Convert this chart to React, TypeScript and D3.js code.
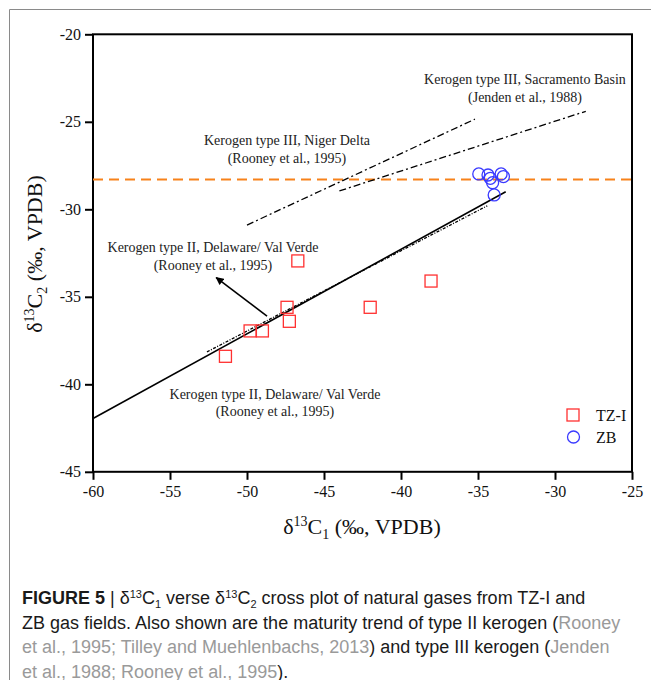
import React, { useEffect, useRef } from 'react';
import * as d3 from 'd3';

// TZ-I gas field samples (d13C1, d13C2)
const tzC1 = [-51.4, -49.8, -49.0, -47.4, -47.25, -46.7, -42.0, -38.05];
const tzC2 = [-38.4, -36.95, -36.95, -35.6, -36.4, -32.95, -35.6, -34.1];

// ZB gas field samples
const zbC1 = [-34.95, -34.35, -34.2, -34.05, -33.5, -33.35, -33.95];
const zbC2 = [-27.98, -28.04, -28.23, -28.48, -27.98, -28.13, -29.18];

// reference trend lines, [x1, y1, x2, y2]
const typeIISolid = [-60, -41.95, -33.2, -29.0];
const typeIIDotted = [-52.6, -38.15, -34.4, -29.8];
const nigerDelta = [-50.0, -30.9, -35.2, -24.85];
const sacramento = [-44.0, -28.95, -28.0, -24.4];
const arrowLine = [-48.7, -36.1, -52.0, -33.9];

const maturityLevel = -28.3;

const xTicks = [-60, -55, -50, -45, -40, -35, -30, -25];
const yTicks = [-20, -25, -30, -35, -40, -45];

const serif = '"Liberation Serif", "Times New Roman", serif';
const sans = '"Liberation Sans", Arial, sans-serif';

export default function App() {
  const ref = useRef<SVGSVGElement>(null);

  useEffect(() => {
    document.body.style.margin = '0';
    const svg = d3.select(ref.current);
    svg.selectAll('*').remove();

    const x = d3.scaleLinear().domain([-60, -25]).range([93, 632]);
    const y = d3.scaleLinear().domain([-20, -45]).range([34.3, 471.8]);

    // outer gray frame
    svg.append('path')
      .attr('d', 'M9.5,680 L9.5,9.5 L651,9.5')
      .attr('fill', 'none')
      .attr('stroke', '#8a8a8a')
      .attr('stroke-width', 1);

    svg.append('defs').append('marker')
      .attr('id', 'arrowhead')
      .attr('viewBox', '0 0 10 10')
      .attr('refX', 9).attr('refY', 5)
      .attr('markerWidth', 9).attr('markerHeight', 8)
      .attr('markerUnits', 'userSpaceOnUse')
      .attr('orient', 'auto')
      .append('path')
      .attr('d', 'M0,0 L10,5 L0,10 z')
      .attr('fill', '#000');

    // plot box
    svg.append('rect')
      .attr('x', x(-60)).attr('y', y(-20))
      .attr('width', x(-25) - x(-60)).attr('height', y(-45) - y(-20))
      .attr('fill', 'none').attr('stroke', '#000').attr('stroke-width', 2);

    // axes
    const xAxis = svg.append('g')
      .attr('transform', `translate(0,${y(-45)})`)
      .call(d3.axisBottom(x).tickValues(xTicks).tickSize(8).tickPadding(6).tickFormat(d => String(d)));
    const yAxis = svg.append('g')
      .attr('transform', `translate(${x(-60)},0)`)
      .call(d3.axisLeft(y).tickValues(yTicks).tickSize(8).tickPadding(4).tickFormat(d => String(d)));
    [xAxis, yAxis].forEach(g => {
      g.select('.domain').remove();
      g.selectAll('line').attr('stroke', '#000').attr('stroke-width', 2);
      g.selectAll('text').attr('font-family', serif).attr('font-size', 16).attr('fill', '#111');
    });

    // orange dashed line
    svg.append('line')
      .attr('x1', x(-60)).attr('x2', x(-25))
      .attr('y1', y(maturityLevel)).attr('y2', y(maturityLevel))
      .attr('stroke', '#f7821b').attr('stroke-width', 2)
      .attr('stroke-dasharray', '10,6');

    const seg = (s: number[], dash: string | null, w: number) => {
      const l = svg.append('line')
        .attr('x1', x(s[0])).attr('y1', y(s[1]))
        .attr('x2', x(s[2])).attr('y2', y(s[3]))
        .attr('stroke', '#000').attr('stroke-width', w);
      if (dash) l.attr('stroke-dasharray', dash);
      return l;
    };
    seg(typeIISolid, null, 1.6);
    seg(typeIIDotted, '3,1.5,1,1.5', 1.3);
    seg(nigerDelta, '7,3,2,3', 1.3);
    seg(sacramento, '7,3,2,3', 1.3);
    seg(arrowLine, null, 1.6).attr('marker-end', 'url(#arrowhead)');

    // annotations
    const notes = [
      { cx: 525, y: 84, t: 'Kerogen type III, Sacramento Basin' },
      { cx: 525, y: 102, t: '(Jenden et al., 1988)' },
      { cx: 287, y: 145, t: 'Kerogen type III, Niger Delta' },
      { cx: 287, y: 163, t: '(Rooney et al., 1995)' },
      { cx: 213, y: 252, t: 'Kerogen type II, Delaware/ Val Verde' },
      { cx: 213, y: 270, t: '(Rooney et al., 1995)' },
      { cx: 275, y: 399, t: 'Kerogen type II, Delaware/ Val Verde' },
      { cx: 275, y: 416, t: '(Rooney et al., 1995)' },
    ];
    svg.append('g').selectAll('text').data(notes).join('text')
      .attr('x', d => d.cx).attr('y', d => d.y)
      .attr('text-anchor', 'middle')
      .attr('font-family', serif).attr('font-size', 14).attr('fill', '#222')
      .text(d => d.t);

    // TZ-I squares
    const sq = 12;
    svg.append('g').selectAll('rect').data(tzC1).join('rect')
      .attr('x', (d) => x(d) - sq / 2)
      .attr('y', (d, i) => y(tzC2[i]) - sq / 2)
      .attr('width', sq).attr('height', sq)
      .attr('fill', 'none').attr('stroke', '#ff3030').attr('stroke-width', 1.3);

    // ZB circles
    svg.append('g').selectAll('circle').data(zbC1).join('circle')
      .attr('cx', d => x(d))
      .attr('cy', (d, i) => y(zbC2[i]))
      .attr('r', 6)
      .attr('fill', 'none').attr('stroke', '#3a3aff').attr('stroke-width', 1.3);

    // legend
    const lg = svg.append('g');
    lg.append('rect').attr('x', 573 - 6).attr('y', 415 - 6).attr('width', 12).attr('height', 12)
      .attr('fill', 'none').attr('stroke', '#ff3030').attr('stroke-width', 1.3);
    lg.append('circle').attr('cx', 573.5).attr('cy', 437).attr('r', 6)
      .attr('fill', 'none').attr('stroke', '#3a3aff').attr('stroke-width', 1.3);
    [['TZ-I', 420.5], ['ZB', 442.5]].forEach(([t, ty]) => {
      lg.append('text').attr('x', 596).attr('y', ty as number)
        .attr('font-family', serif).attr('font-size', 16).attr('fill', '#111')
        .text(t as string);
    });

    // axis titles
    const xt = svg.append('text')
      .attr('x', 362).attr('y', 534).attr('text-anchor', 'middle')
      .attr('font-family', serif).attr('font-size', 22).attr('fill', '#111');
    xt.append('tspan').text('δ');
    xt.append('tspan').attr('font-size', 14).attr('dy', -8).text('13');
    xt.append('tspan').attr('dy', 8).text('C');
    xt.append('tspan').attr('font-size', 14).attr('dy', 5).text('1');
    xt.append('tspan').attr('dy', -5).text(' (‰, VPDB)');

    const yt = svg.append('text')
      .attr('transform', 'translate(42,254) rotate(-90)').attr('text-anchor', 'middle')
      .attr('font-family', serif).attr('font-size', 22).attr('fill', '#111');
    yt.append('tspan').text('δ');
    yt.append('tspan').attr('font-size', 14).attr('dy', -8).text('13');
    yt.append('tspan').attr('dy', 8).text('C');
    yt.append('tspan').attr('font-size', 14).attr('dy', 5).text('2');
    yt.append('tspan').attr('dy', -5).text(' (‰, VPDB)');

    // caption
    const gray = '#9a9a9a';
    type Part = { t: string; c?: string; b?: boolean; shift?: number };
    const lines: Part[][] = [
      [
        { t: 'FIGURE 5', b: true }, { t: ' | δ' }, { t: '13', shift: -6 }, { t: 'C' }, { t: '1', shift: 4 },
        { t: ' verse δ' }, { t: '13', shift: -6 }, { t: 'C' }, { t: '2', shift: 4 },
        { t: ' cross plot of natural gases from TZ-I and' },
      ],
      [{ t: 'ZB gas fields. Also shown are the maturity trend of type II kerogen (' }, { t: 'Rooney', c: gray }],
      [{ t: 'et al., 1995; Tilley and Muehlenbachs, 2013', c: gray }, { t: ') and type III kerogen (' }, { t: 'Jenden', c: gray }],
      [{ t: 'et al., 1988; Rooney et al., 1995', c: gray }, { t: ').' }],
    ];
    lines.forEach((parts, li) => {
      const tx = svg.append('text')
        .attr('x', 22).attr('y', 604 + li * 24.5)
        .attr('font-family', sans).attr('font-size', 18).attr('fill', '#1a1a1a');
      let cur = 0;
      parts.forEach(p => {
        const target = p.shift ?? 0;
        const ts = tx.append('tspan').attr('dy', target - cur).text(p.t);
        cur = target;
        if (p.c) ts.attr('fill', p.c);
        if (p.b) ts.attr('font-weight', 'bold');
        if (p.shift) ts.attr('font-size', 11);
      });
    });
  }, []);

  return (
    <svg ref={ref} width={651} height={680} style={{ display: 'block', background: '#fff' }} />
  );
}
